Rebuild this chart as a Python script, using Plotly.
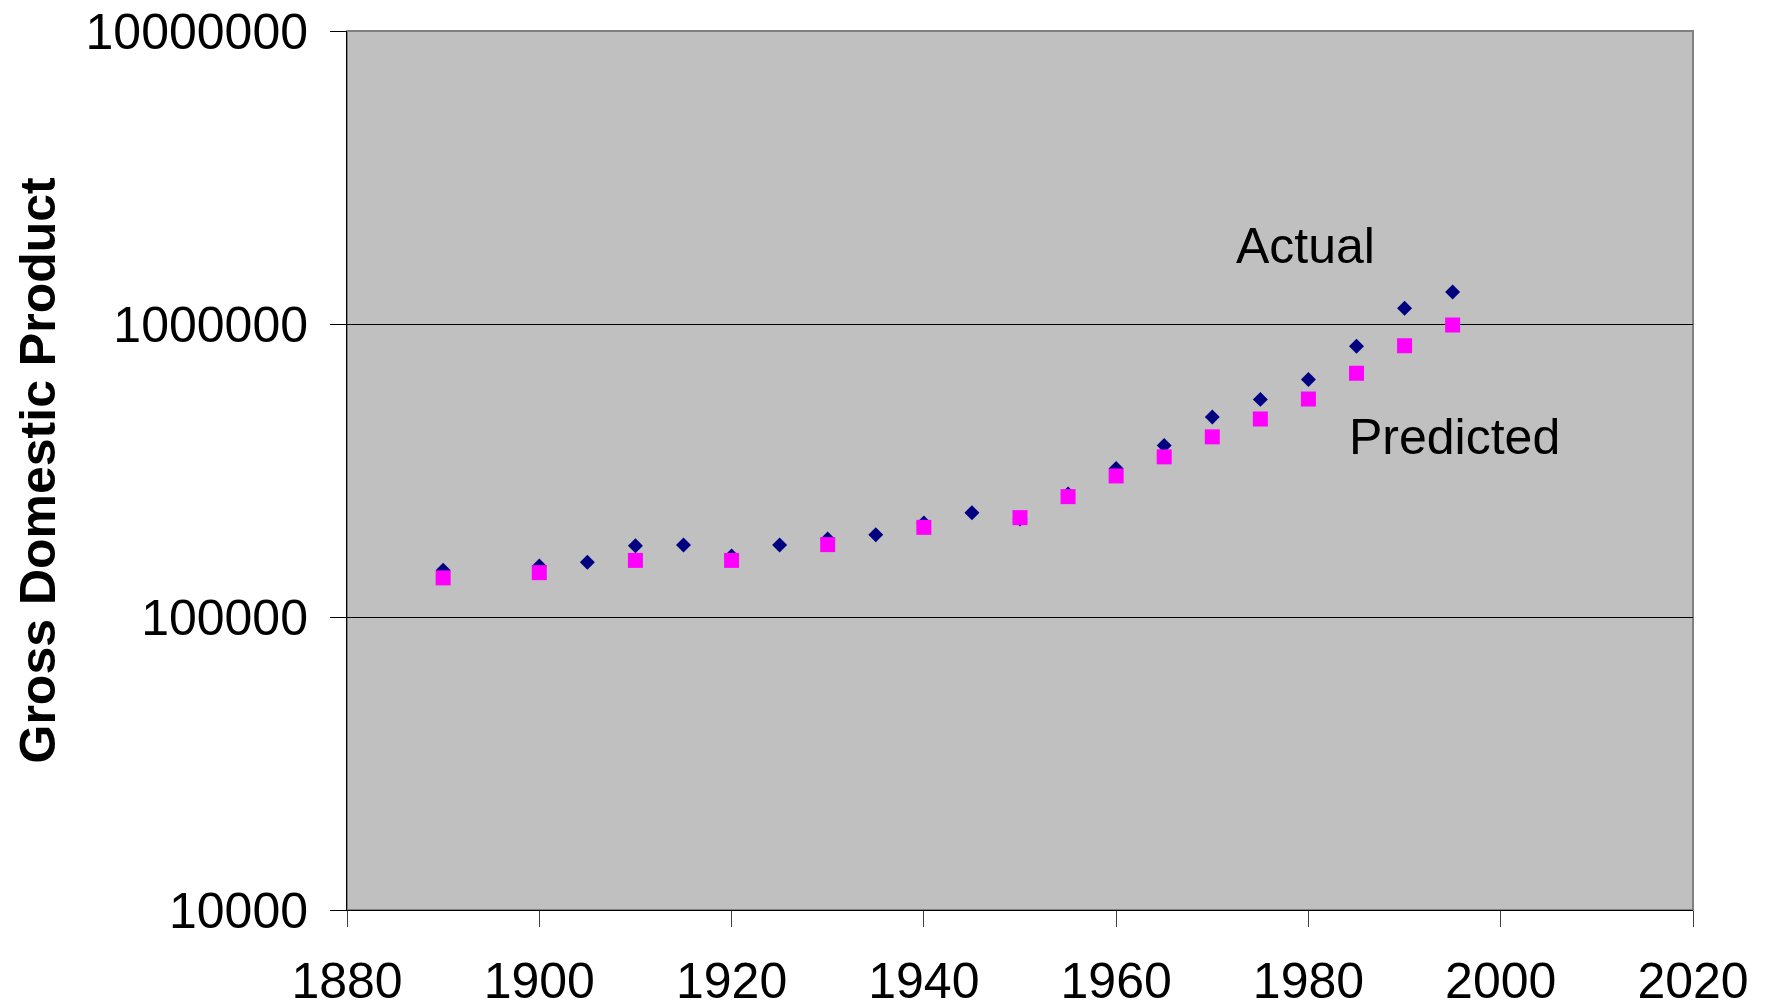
import plotly.graph_objects as go

years = [1890, 1900, 1905, 1910, 1915, 1920, 1925, 1930, 1935, 1940, 1945,
         1950, 1955, 1960, 1965, 1970, 1975, 1980, 1985, 1990, 1995]
actual = [144500, 149300, 153800, 175000, 176000, 161500, 176000, 184600, 191000, 209400, 227000,
          216000, 263000, 321000, 385000, 481500, 553000, 646000, 839000, 1132000, 1285000]

pred_years = [1890, 1900, 1910, 1920, 1930, 1940, 1950, 1955, 1960, 1965, 1970, 1975, 1980, 1985, 1990, 1995]
predicted = [136000, 141700, 156000, 156000, 176600, 202300, 218300, 257500, 303000, 352000,
             412000, 474000, 554600, 679000, 843000, 992000]

y_ticks = [10000, 100000, 1000000, 10000000]
y_tick_text = ["10000", "100000", "1000000", "10000000"]
x_ticks = [1880, 1900, 1920, 1940, 1960, 1980, 2000, 2020]

FONT = "Liberation Sans, Arial, sans-serif"
FS = 50

fig = go.Figure()
fig.add_trace(go.Scatter(x=years, y=actual, mode="markers", name="Actual",
                         marker=dict(symbol="diamond", size=11.5, color="#000080",
                                     line=dict(width=0))))
fig.add_trace(go.Scatter(x=pred_years, y=predicted, mode="markers", name="Predicted",
                         marker=dict(symbol="square", size=15, color="#FF00FF",
                                     line=dict(width=0))))

fig.update_layout(
    width=1767, height=1008,
    margin=dict(l=347, r=74, t=31, b=98, autoexpand=False),
    paper_bgcolor="white",
    plot_bgcolor="#C0C0C0",
    showlegend=False,
    font=dict(family=FONT, size=FS, color="black"),
)
fig.update_xaxes(range=[1880, 2020], tickvals=x_ticks, showgrid=False, zeroline=False,
                 ticks="outside", ticklen=16, tickcolor="#404040", tickwidth=1,
                 showline=True, linecolor="black", linewidth=1, automargin=False,
                 tickfont=dict(family=FONT, size=FS), ticklabelstandoff=11)
fig.update_yaxes(type="log", range=[4, 7], tickvals=y_ticks, ticktext=y_tick_text,
                 showgrid=True, gridcolor="black", gridwidth=1, zeroline=False,
                 ticks="outside", ticklen=16, tickcolor="black", tickwidth=1,
                 showline=True, linecolor="black", linewidth=1, automargin=False,
                 tickfont=dict(family=FONT, size=FS), ticklabelstandoff=12)

fig.add_shape(type="rect", xref="paper", yref="paper", x0=0, x1=1, y0=0, y1=1,
              line=dict(color="#808080", width=2), layer="below")

fig.add_annotation(text="Gross Domestic Product", xref="paper", yref="paper",
                   x=(37 - 347) / 1346, y=0.5, xanchor="center", yanchor="middle",
                   textangle=-90, showarrow=False,
                   font=dict(family=FONT, size=FS, color="black", weight="bold"))
fig.add_annotation(text="Actual", x=1979.7, y=6.266, xref="x", yref="y",
                   showarrow=False, xanchor="center", yanchor="middle",
                   font=dict(family=FONT, size=FS, color="black"))
fig.add_annotation(text="Predicted", x=1995.2, y=5.614, xref="x", yref="y",
                   showarrow=False, xanchor="center", yanchor="middle",
                   font=dict(family=FONT, size=FS, color="black"))

fig.write_html("out.html", config={"displayModeBar": False},
               post_script="document.body.style.margin='0';document.body.style.overflow='hidden';")
